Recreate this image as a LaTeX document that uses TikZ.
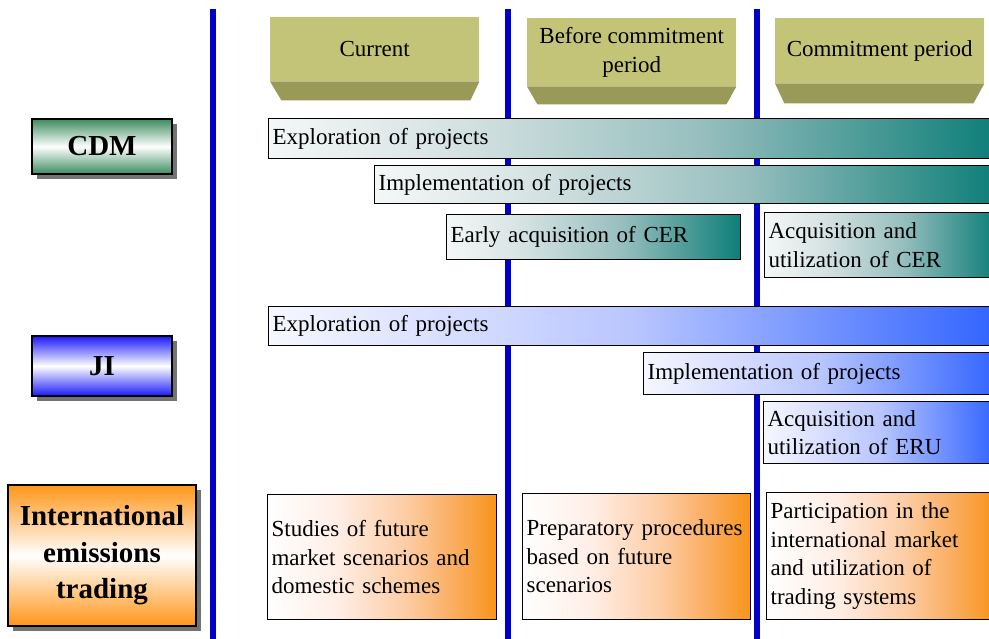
\documentclass[tikz,border=0pt]{standalone}
\usepackage{fontspec}
\setmainfont{Liberation Serif}
\usetikzlibrary{shadows}

% palette
\definecolor{divblue}{RGB}{0,0,200}
\definecolor{hdrface}{RGB}{196,196,120}
\definecolor{hdrbevel}{RGB}{153,153,88}
\definecolor{cdmA}{RGB}{244,247,247}
\definecolor{cdmB}{RGB}{215,227,227}
\definecolor{cdmC}{RGB}{150,190,190}
\definecolor{cdmD}{RGB}{14,126,120}
\definecolor{jiA}{RGB}{246,247,255}
\definecolor{jiB}{RGB}{185,198,255}
\definecolor{jiC}{RGB}{50,100,255}
\definecolor{ietB}{RGB}{255,238,230}
\definecolor{ietC}{RGB}{253,205,165}
\definecolor{ietD}{RGB}{250,175,100}
\definecolor{ietE}{RGB}{248,148,25}
\definecolor{cdmlbl}{RGB}{60,140,95}
\definecolor{jilbl}{RGB}{25,25,250}
\definecolor{ietlbl}{RGB}{255,150,25}

% left-to-right fades for the activity bars
\pgfdeclarehorizontalshading{cdmfade}{100bp}{color(0bp)=(cdmA); color(25bp)=(cdmA);
  color(37.5bp)=(cdmB); color(55bp)=(cdmC); color(75bp)=(cdmD); color(100bp)=(cdmD)}
\pgfdeclarehorizontalshading{jifade}{100bp}{color(0bp)=(jiA); color(25bp)=(jiA);
  color(50bp)=(jiB); color(75bp)=(jiC); color(100bp)=(jiC)}
\pgfdeclarehorizontalshading{ietfade}{100bp}{color(0bp)=(white); color(25bp)=(white);
  color(40bp)=(ietB); color(55bp)=(ietC); color(65bp)=(ietD); color(75bp)=(ietE);
  color(100bp)=(ietE)}

\newcommand\bartext{\fontsize{23}{28.5}\selectfont}
\newcommand\lblfont{\fontsize{29}{36.5}\selectfont\bfseries}

\tikzset{
  divider/.style={draw=divblue, line width=6.5pt},
  hdr/.style={fill=hdrface, anchor=north west, inner sep=0pt, align=center, font=\bartext},
  bevel/.style={fill=hdrbevel},
  actbar/.style={draw=black, line width=1.2pt, anchor=north west, inner xsep=4pt,
    inner ysep=0pt, align=left, font=\bartext},
  cdmbar/.style={actbar, shading=cdmfade},
  jibar/.style={actbar, shading=jifade},
  ietbox/.style={actbar, shading=ietfade},
  mechlbl/.style={draw=black, line width=1.5pt, align=center, font=\lblfont,
    middle color=white, inner sep=0pt,
    drop shadow={shadow xshift=5pt, shadow yshift=-5pt, fill=black!55, opacity=1}},
}

\begin{document}
\begin{tikzpicture}[x=1pt, y=-1pt]
\useasboundingbox (0,0) rectangle (989,638);
\fill[white] (0,0) rectangle (989,638);

% period dividers
\draw[divider] (213,9) -- (213,640);
\draw[divider] (508,9) -- (508,640);
\draw[divider] (757,9) -- (757,640);

% period headers
\node[hdr, minimum width=209pt, minimum height=64pt] (hcur) at (270,17) {Current};
\fill[bevel] (hcur.south west) -- (hcur.south east) -- ++(-9,19) -- ++(-189,0) -- cycle;
\node[hdr, minimum width=209pt, minimum height=68pt] (hpre) at (527,18) {Before commitment\\period};
\fill[bevel] (hpre.south west) -- (hpre.south east) -- ++(-10,18) -- ++(-189,0) -- cycle;
\node[hdr, minimum width=209pt, minimum height=65pt] (hcom) at (775,18) {Commitment period};
\fill[bevel] (hcom.south west) -- (hcom.south east) -- ++(-11,20) -- ++(-189,0) -- cycle;

% mechanism labels
\node[mechlbl, top color=cdmlbl, bottom color=cdmlbl, middle color=white,
  minimum width=140pt, minimum height=55pt] (lcdm) at (102,146.5) {CDM};
\node[mechlbl, top color=jilbl, bottom color=jilbl, middle color=white,
  minimum width=140pt, minimum height=60pt] (lji) at (102,366) {JI};
\node[mechlbl, top color=ietlbl, bottom color=ietlbl, middle color=white,
  minimum width=188pt, minimum height=141pt] (liet) at (102,555.5)
  {International\\emissions\\trading};

% CDM activities
\node[cdmbar, text width=719pt, minimum height=40pt] (cdm1) at (268,118) {Exploration of projects};
\node[cdmbar, text width=613pt, minimum height=38pt] (cdm2) at (374,165) {Implementation of projects};
\node[cdmbar, text width=286pt, minimum height=45pt] (cdm3) at (446,214) {Early acquisition of CER};
\node[cdmbar, text width=223pt, minimum height=65pt] (cdm4) at (764,212) {Acquisition and\\utilization of CER};

% JI activities
\node[jibar, text width=719pt, minimum height=39pt] (ji1) at (268,306) {Exploration of projects};
\node[jibar, text width=344pt, minimum height=42pt] (ji2) at (643,352) {Implementation of projects};
\node[jibar, text width=224pt, minimum height=62pt] (ji3) at (763,401) {Acquisition and\\utilization of ERU};

% emissions trading activities
\node[ietbox, text width=221pt, minimum height=125pt] (iet1) at (267,494)
  {Studies of future\\market scenarios and\\domestic schemes};
\node[ietbox, text width=220pt, minimum height=126pt] (iet2) at (522,493)
  {Preparatory procedures\\based on future\\scenarios};
\node[ietbox, text width=221pt, minimum height=127pt] (iet3) at (766,492)
  {Participation in the\\international market\\and utilization of\\trading systems};
\end{tikzpicture}
\end{document}
